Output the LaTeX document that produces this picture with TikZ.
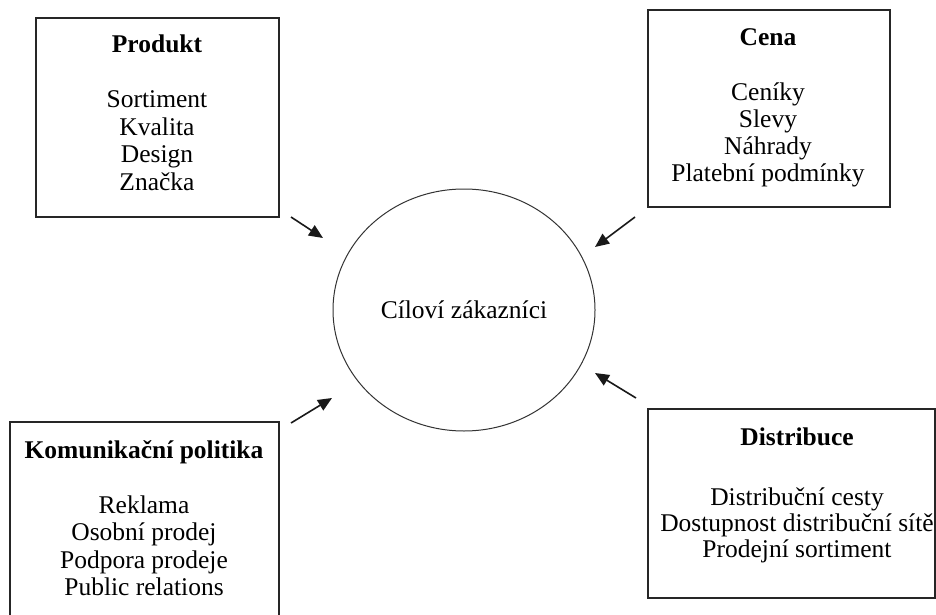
\documentclass[tikz,border=0pt]{standalone}
\usepackage{fontspec}
\setmainfont{Liberation Serif}
\usetikzlibrary{arrows.meta,shapes.geometric}
\begin{document}
\begin{tikzpicture}[x=1pt,y=-1pt,
  box/.style={draw=black!85, line width=1.3pt, rectangle, inner sep=0pt},
  txt/.style={align=center, anchor=north, inner sep=0pt},
  arr/.style={draw=black!90, line width=1.6pt, -{Triangle[length=14pt,width=12pt]}}]
\clip (0,0) rectangle (936,615);
\fill[white] (0,0) rectangle (936,615);
% boxes
\node[box, minimum width=243pt, minimum height=199pt] (produkt) at (157.5,117.5) {};
\node[box, minimum width=242pt, minimum height=197pt] (cena) at (769,108.5) {};
\node[box, minimum width=269pt, minimum height=218pt] (komunikace) at (144.5,531) {};
\node[box, minimum width=287pt, minimum height=189pt] (distribuce) at (791.5,503.5) {};
% texts
\node[txt, font=\fontsize{25.5}{27.5}\selectfont] (produktT) at (157,35)
  {\textbf{Produkt}\\[27.5pt]Sortiment\\Kvalita\\Design\\Značka};
\node[txt, font=\fontsize{25.5}{27}\selectfont] (cenaT) at (768,28)
  {\textbf{Cena}\\[28pt]Ceníky\\Slevy\\Náhrady\\Platební podmínky};
\node[txt, font=\fontsize{25.5}{27.5}\selectfont] (komunikaceT) at (144,440)
  {\textbf{Komunikační politika}\\[27.5pt]Reklama\\Osobní prodej\\Podpora prodeje\\Public relations};
\node[txt, font=\fontsize{25.5}{26}\selectfont] (distribuceT) at (797,428)
  {\textbf{Distribuce}\\[34pt]Distribuční cesty\\Dostupnost distribuční sítě\\Prodejní sortiment};
% centre
\node[draw=black!80, line width=1pt, ellipse, minimum width=262pt, minimum height=242pt,
  inner sep=0pt, font=\fontsize{25.5}{27.5}\selectfont] (cil) at (464,310) {Cíloví zákazníci};
% arrows
\coordinate (a1s) at (291,217); \coordinate (a1e) at (323,238);
\coordinate (a2s) at (635,217); \coordinate (a2e) at (595,247);
\coordinate (a3s) at (291,423); \coordinate (a3e) at (332,398);
\coordinate (a4s) at (636,398); \coordinate (a4e) at (595,373);
\draw[arr] (a1s) -- (a1e);
\draw[arr] (a2s) -- (a2e);
\draw[arr] (a3s) -- (a3e);
\draw[arr] (a4s) -- (a4e);
\end{tikzpicture}
\end{document}
